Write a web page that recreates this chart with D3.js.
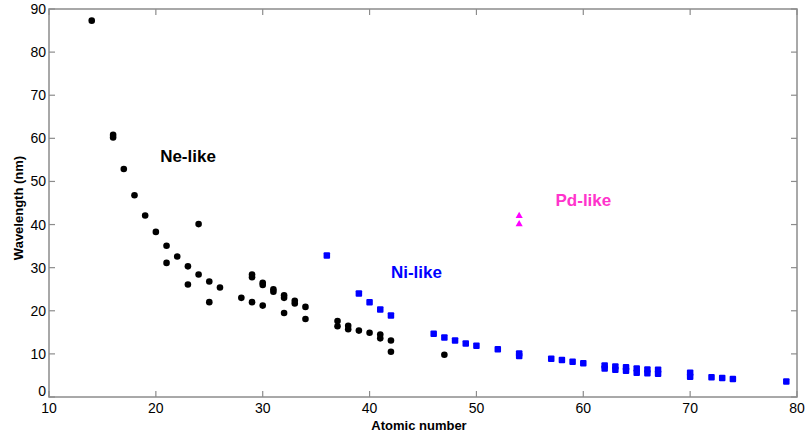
<!DOCTYPE html>
<html>
<head>
<meta charset="utf-8">
<script src="https://cdn.jsdelivr.net/npm/d3@7"></script>
<style>
  body { margin: 0; background: #fff; }
  svg text { font-family: "Liberation Sans", Arial, sans-serif; }
</style>
</head>
<body>
<svg id="chart" width="807" height="437"></svg>
<script>
// Ne-like (black circles)
var neZ = [14,16,16,17,18,19,20,21,21,22,23,23,24,24,25,25,26,28,29,29,29,30,30,30,31,31,32,32,32,33,33,34,34,37,37,38,38,39,40,41,41,42,42,47];
var neL = [87.3,60.8,60.2,52.9,46.8,42.1,38.3,35.1,31.1,32.6,30.3,26.1,40.1,28.4,26.8,22.0,25.4,23.0,28.4,27.8,22.0,26.5,26.0,21.2,25.0,24.4,23.6,23.0,19.5,22.3,21.7,20.9,18.1,17.6,16.4,16.5,15.7,15.4,14.9,14.5,13.6,13.1,10.5,9.8];
// Ni-like (blue squares)
var niZ = [36,39,40,41,42,46,47,48,49,50,52,54,54,57,58,59,60,62,62,63,63,64,64,65,65,66,66,67,67,70,70,72,73,74,79];
var niL = [32.8,24.0,22.0,20.3,18.9,14.7,13.8,13.1,12.4,11.9,11.1,10.1,9.5,8.9,8.6,8.2,7.8,7.3,6.6,7.1,6.3,6.9,6.1,6.6,5.6,6.4,5.5,6.3,5.4,5.6,4.7,4.6,4.4,4.2,3.6];
// Pd-like (magenta triangles)
var pdZ = [54,54];
var pdL = [42.0,40.1];

var xTicks = [10,20,30,40,50,60,70,80];
var yTicks = [0,10,20,30,40,50,60,70,80,90];

var margin = {left: 49, top: 9, right: 10, bottom: 40};
var width = 807, height = 437;

var svg = d3.select("#chart");

var x = d3.scaleLinear().domain([10, 80]).range([margin.left, width - margin.right]);
var y = d3.scaleLinear().domain([0, 90]).range([height - margin.bottom, margin.top]);

var axisColor = "#8c8c8c";

// frame
svg.append("rect")
    .attr("x", x(10))
    .attr("y", y(90))
    .attr("width", x(80) - x(10))
    .attr("height", y(0) - y(90))
    .attr("fill", "none")
    .attr("stroke", axisColor)
    .attr("stroke-width", 1.5);

// ticks (inward, on all four sides)
var tickLen = 6;
var g = svg.append("g").attr("stroke", axisColor).attr("stroke-width", 1.2);
xTicks.forEach(function(t){
  g.append("line").attr("x1", x(t)).attr("x2", x(t)).attr("y1", y(0)).attr("y2", y(0) - tickLen);
  g.append("line").attr("x1", x(t)).attr("x2", x(t)).attr("y1", y(90)).attr("y2", y(90) + tickLen);
});
yTicks.forEach(function(t){
  g.append("line").attr("x1", x(10)).attr("x2", x(10) + tickLen).attr("y1", y(t)).attr("y2", y(t));
  g.append("line").attr("x1", x(80)).attr("x2", x(80) - tickLen).attr("y1", y(t)).attr("y2", y(t));
});

// tick labels
svg.append("g").selectAll("text")
    .data(xTicks)
    .enter()
    .append("text")
    .attr("x", d => x(d))
    .attr("y", y(0) + 16)
    .attr("font-size", "14px")
    .style("text-anchor", "middle")
    .text(d => d);

svg.append("g").selectAll("text")
    .data(yTicks)
    .enter()
    .append("text")
    .attr("x", x(10) - 3)
    .attr("y", d => d === 0 ? y(d) - 1 : y(d) + 5)
    .attr("font-size", "14px")
    .style("text-anchor", "end")
    .text(d => d);

// axis titles
svg.append("text")
    .attr("x", (x(10) + x(80)) / 2 - 4)
    .attr("y", y(0) + 33)
    .attr("font-size", "13px")
    .attr("font-weight", "bold")
    .style("text-anchor", "middle")
    .text("Atomic number");

svg.append("text")
    .attr("transform", "translate(23," + ((y(0) + y(90)) / 2 + 5) + ") rotate(-90)")
    .attr("font-size", "13px")
    .attr("font-weight", "bold")
    .style("text-anchor", "middle")
    .text("Wavelength (nm)");

// Ne-like
svg.append("g").selectAll("circle")
    .data(d3.zip(neZ, neL))
    .enter()
    .append("circle")
    .attr("cx", d => x(d[0]))
    .attr("cy", d => y(d[1]))
    .attr("r", 3.3)
    .attr("fill", "#000");

// Ni-like
var sq = 6.5;
svg.append("g").selectAll("rect")
    .data(d3.zip(niZ, niL))
    .enter()
    .append("rect")
    .attr("x", d => x(d[0]) - sq / 2)
    .attr("y", d => y(d[1]) - sq / 2)
    .attr("width", sq)
    .attr("height", sq)
    .attr("rx", 1)
    .attr("fill", "#0000ff");

// Pd-like
var tri = d3.symbol().type(d3.symbolTriangle).size(22);
svg.append("g").selectAll("path")
    .data(d3.zip(pdZ, pdL))
    .enter()
    .append("path")
    .attr("transform", d => "translate(" + x(d[0]) + "," + y(d[1]) + ")")
    .attr("d", tri)
    .attr("fill", "#ff00ff");

// series labels
function label(txt, zx, ly, color){
  svg.append("text")
      .attr("x", x(zx))
      .attr("y", y(ly))
      .attr("font-family", "Lato, 'Open Sans', sans-serif")
      .attr("font-size", "17px")
      .attr("font-weight", "bold")
      .attr("fill", color)
      .text(txt);
}
label("Ne-like", 20.4, 54.5, "#000");
label("Ni-like", 42.0, 27.5, "#0000ff");
label("Pd-like", 57.4, 44.3, "#ff33cc");
</script>
</body>
</html>
